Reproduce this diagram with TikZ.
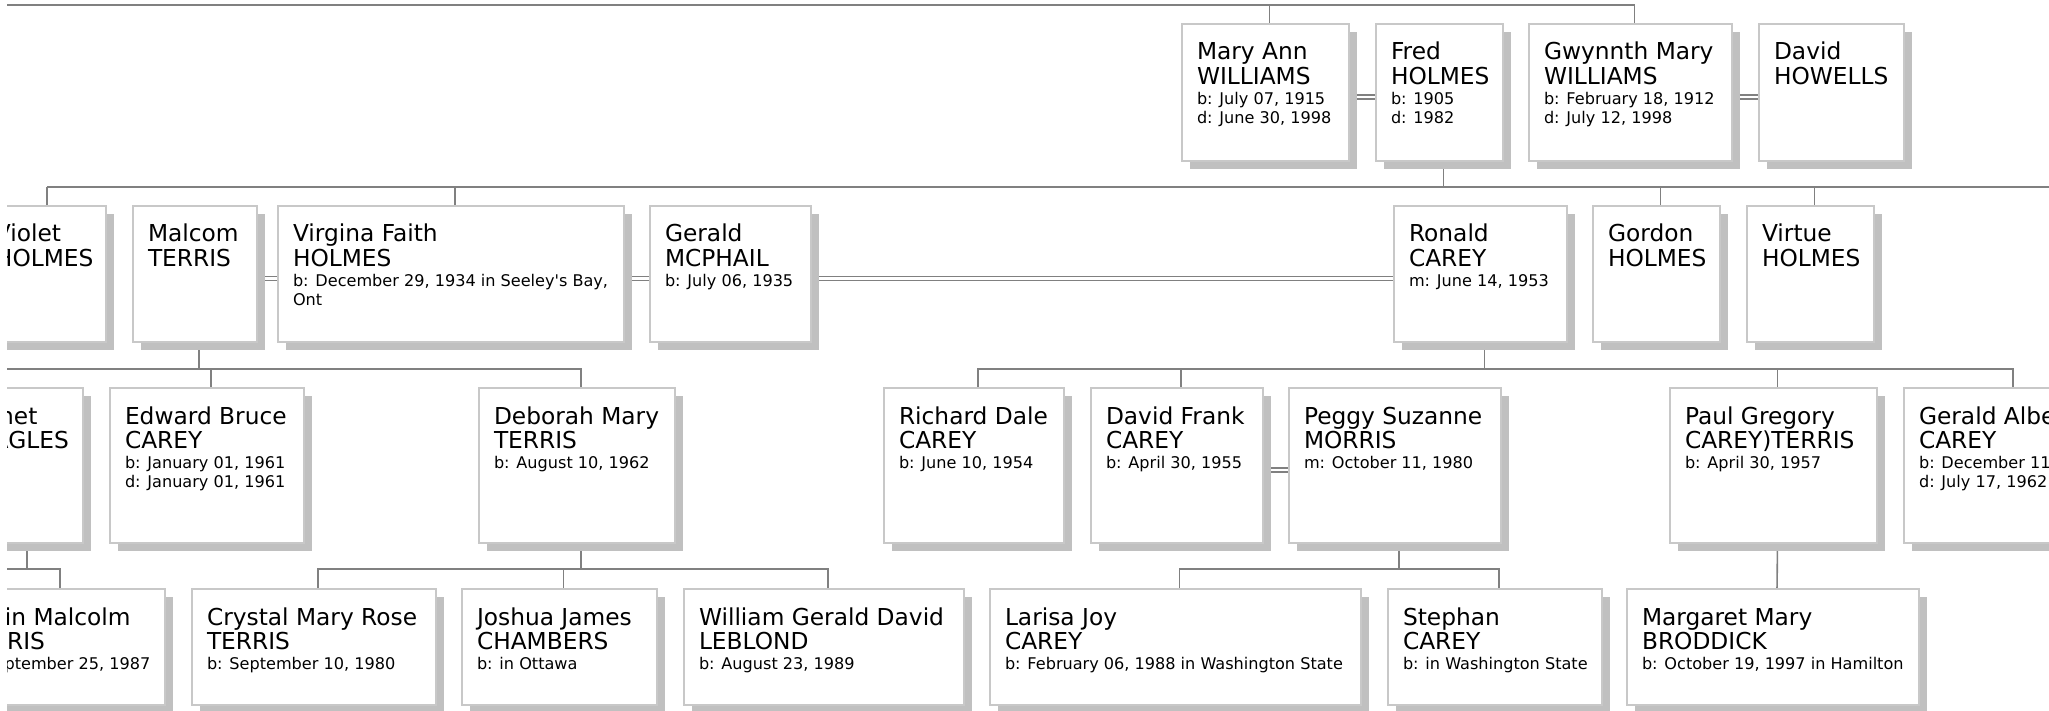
\documentclass[tikz,border=0pt]{standalone}
\usepackage{fontspec}
\setmainfont{DejaVu Sans}
\newfontfamily\nmfont{DejaVu Sans}
\newfontfamily\dtfont{DejaVu Sans}
\usetikzlibrary{shadows}
\pgfdeclarelayer{background}
\pgfsetlayers{background,main}
\definecolor{linegray}{HTML}{808080}
\definecolor{boxgray}{HTML}{C8C8C8}
\definecolor{shadegray}{HTML}{C0C0C0}
\newcommand\ptext[4]{\parbox[t][#2pt][t]{#1pt}{\raggedright\leftskip=15pt\parindent=0pt
  {\nmfont\fontsize{23.3pt}{24.7pt}\selectfont\rule{0pt}{36pt}#3\par}\vspace{1pt}
  {\dtfont\fontsize{16.1pt}{18.7pt}\selectfont #4\par}}}
\newcommand\person[7]{%
  \node[pbox] (#1) at (#2pt,-#3pt) {\ptext{#4}{#5}{#6}{#7}};
  \coordinate (#1-up) at ([xshift=4pt]#1.north);
  \coordinate (#1-dn) at ([xshift=4pt]#1.south);}
\tikzset{
  pbox/.style={draw=boxgray, line width=1.3pt, fill=white, inner sep=0pt, outer sep=0pt,
    anchor=north west, general shadow={fill=shadegray, shadow xshift=8pt, shadow yshift=-8pt}},
  conn/.style={draw=linegray, line width=1.6pt},
  dbl/.style={draw=linegray, line width=1.3pt, double=white, double distance=2.6pt}
}
\begin{document}
\begin{tikzpicture}
\useasboundingbox (0pt,0pt) rectangle (2049pt,-711pt);
\clip (7pt,0pt) rectangle (2049pt,-711pt);
% row 1
\person{maryann}{1182}{24}{167}{137}{Mary Ann\\WILLIAMS}{b: July 07, 1915\\d: June 30, 1998}
\person{fred}{1376}{24}{127}{137}{Fred\\HOLMES}{b: 1905\\d: 1982}
\person{gwynnth}{1529}{24}{203}{137}{Gwynnth Mary\\WILLIAMS}{b: February 18, 1912\\d: July 12, 1998}
\person{davidh}{1759}{24}{145}{137}{David\\HOWELLS}{}
% row 2
\person{violet}{-20}{206}{126}{136}{Violet\\HOLMES}{}
\person{malcom}{133}{206}{124}{136}{Malcom\\TERRIS}{}
\person{virgina}{278}{206}{346}{136}{Virgina Faith\\HOLMES}{b: December 29, 1934 in Seeley's Bay,\\Ont}
\person{geraldm}{650}{206}{161}{136}{Gerald\\MCPHAIL}{b: July 06, 1935}
\person{ronald}{1394}{206}{173}{136}{Ronald\\CAREY}{m: June 14, 1953}
\person{gordon}{1593}{206}{127}{136}{Gordon\\HOLMES}{}
\person{virtue}{1747}{206}{127}{136}{Virtue\\HOLMES}{}
% row 3
\person{janet}{-37}{388}{120}{155}{Janet\\EAGLES}{}
\person{edward}{110}{388}{194}{155}{Edward Bruce\\CAREY}{b: January 01, 1961\\d: January 01, 1961}
\person{deborah}{479}{388}{196}{155}{Deborah Mary\\TERRIS}{b: August 10, 1962}
\person{richard}{884}{388}{180}{155}{Richard Dale\\CAREY}{b: June 10, 1954}
\person{davidf}{1091}{388}{172}{155}{David Frank\\CAREY}{b: April 30, 1955}
\person{peggy}{1289}{388}{212}{155}{Peggy Suzanne\\MORRIS}{m: October 11, 1980}
\person{paul}{1670}{388}{207}{155}{Paul Gregory\\CAREY)TERRIS}{b: April 30, 1957}
\person{geralda}{1904}{388}{210}{155}{Gerald Albert\\CAREY}{b: December 11\\d: July 17, 1962}
% row 4
\person{justin}{-53}{589}{218}{116}{Justin Malcolm\\TERRIS}{b: September 25, 1987}
\person{crystal}{192}{589}{244}{116}{Crystal Mary Rose\\TERRIS}{b: September 10, 1980}
\person{joshua}{462}{589}{195}{116}{Joshua James\\CHAMBERS}{b: in Ottawa}
\person{william}{684}{589}{280}{116}{William Gerald David\\LEBLOND}{b: August 23, 1989}
\person{larisa}{990}{589}{371}{116}{Larisa Joy\\CAREY}{b: February 06, 1988 in Washington State}
\person{stephan}{1388}{589}{214}{116}{Stephan\\CAREY}{b: in Washington State}
\person{margaret}{1627}{589}{292}{116}{Margaret Mary\\BRODDICK}{b: October 19, 1997 in Hamilton}
% free ends of the bars
\coordinate (bar0) at (7pt,-5pt);
\coordinate (bar1) at (2049pt,-187pt);
\coordinate (bar2) at (7pt,-369pt);
\coordinate (bar3) at (7pt,-569pt);
\begin{pgfonlayer}{background}
% generation 0 -> 1
\draw[conn] (bar0) -| (gwynnth-up);
\draw[conn] (maryann-up) -- (maryann-up |- bar0);
\draw[dbl] ([yshift=-4.5pt]maryann.east) -- ([yshift=-4.5pt]fred.west);
\draw[dbl] ([yshift=-4.5pt]gwynnth.east) -- ([yshift=-4.5pt]davidh.west);
% generation 1 -> 2
\draw[conn] (fred-dn) -- (fred-dn |- bar1);
\draw[conn] (violet-up |- bar1) -- (bar1);
\foreach \n in {violet,virgina,gordon,virtue} \draw[conn] (\n-up) -- (\n-up |- bar1);
\draw[dbl] ([yshift=-4.5pt]malcom.east) -- ([yshift=-4.5pt]virgina.west);
\draw[dbl] ([yshift=-4.5pt]virgina.east) -- ([yshift=-4.5pt]geraldm.west);
\draw[dbl] ([yshift=-4.5pt]geraldm.east) -- ([yshift=-4.5pt]ronald.west);
% generation 2 -> 3
\draw[conn] (bar2) -| (deborah-up);
\draw[conn] (malcom-dn) -- (malcom-dn |- bar2);
\draw[conn] (edward-up) -- (edward-up |- bar2);
\draw[conn] (richard-up) -- (richard-up |- bar2) -- (geralda-up |- bar2) -- (geralda-up);
\draw[conn] (ronald-dn) -- (ronald-dn |- bar2);
\draw[conn] (davidf-up) -- (davidf-up |- bar2);
\draw[conn] (paul-up) -- (paul-up |- bar2);
\draw[dbl] ([yshift=-4.5pt]davidf.east) -- ([yshift=-4.5pt]peggy.west);
% generation 3 -> 4
\draw[conn] (bar3) -| (justin-up);
\draw[conn] (janet-dn) -- (janet-dn |- bar3);
\draw[conn] (crystal-up) -- (crystal-up |- bar3) -- (william-up |- bar3) -- (william-up);
\draw[conn] (deborah-dn) -- (deborah-dn |- bar3);
\draw[conn] (joshua-up) -- (joshua-up |- bar3);
\draw[conn] (larisa-up) -- (larisa-up |- bar3) -- (stephan-up |- bar3) -- (stephan-up);
\draw[conn] (peggy-dn) -- (peggy-dn |- bar3);
\draw[conn] (paul-dn) -- (margaret-up);
\end{pgfonlayer}
\end{tikzpicture}
\end{document}
